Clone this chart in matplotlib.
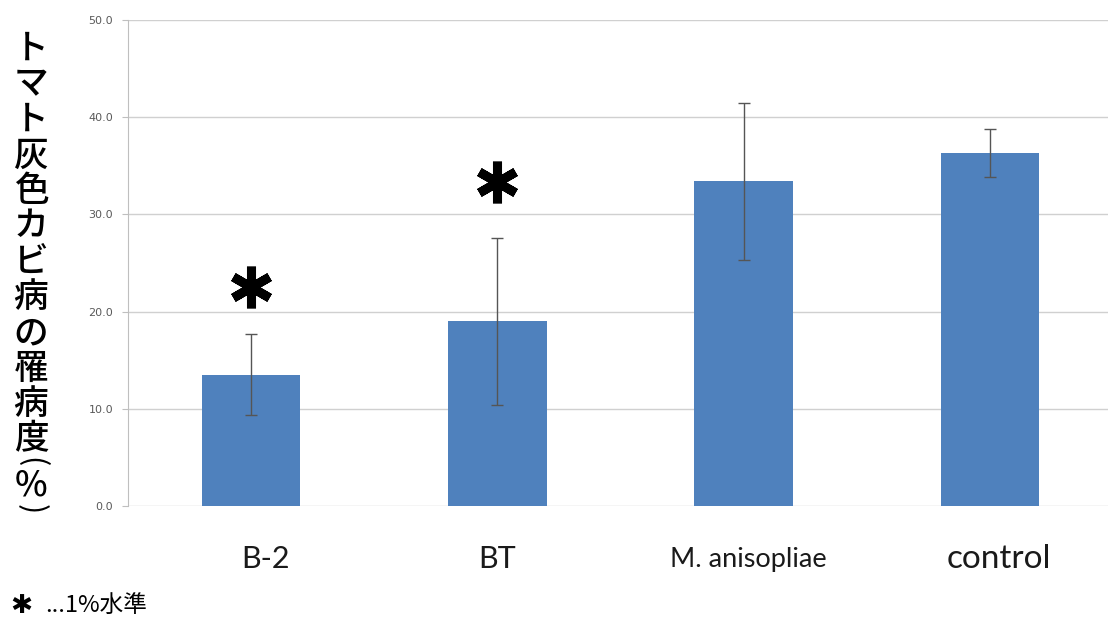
import matplotlib.pyplot as plt
from matplotlib.markers import MarkerStyle

plt.rcParams['font.family'] = ['Noto Sans CJK JP', 'DejaVu Sans']

# データ
categories = ['B-2', 'BT', 'M. anisopliae', 'control']
values = [13.5, 19.0, 33.4, 36.3]
errors = [4.2, 8.6, 8.1, 2.5]
label_sizes = [22, 22, 19.5, 24]
label_shift = [0.06, 0, 0.02, 0.035]
star_idx = [0, 1]
star_y = [22.5, 33.3]
yticks = [0, 10, 20, 30, 40, 50]

fig = plt.figure(figsize=(11.08, 6.23), dpi=100)
ax = fig.add_axes([0.1155, 0.188, 0.8845, 0.78])

ax.bar(range(len(categories)), values, width=0.4, color='#4f81bd', zorder=2)
ax.errorbar(range(len(categories)), values, yerr=errors, fmt='none',
            ecolor='#555555', elinewidth=1, capsize=4, capthick=1, zorder=3)

star = MarkerStyle((6, 2, 0), capstyle='round')
ax.plot(star_idx, star_y, linestyle='none', marker=star, markersize=30,
        markeredgewidth=6.5, color='black', zorder=4)

ax.set_xlim(-0.5, 3.48)
ax.set_ylim(0, 50)
ax.set_yticks(yticks)
ax.set_yticklabels([f'{t:.1f}' for t in yticks], fontsize=8, color='#595959',
                   family='DejaVu Sans')
ax.yaxis.grid(True, color='#d0d0d0', linewidth=1)
ax.set_axisbelow(True)
ax.tick_params(axis='y', length=4.3, color='#bfbfbf', pad=6.5)
ax.tick_params(axis='x', length=0)
ax.set_xticks([])
for s in ['top', 'right', 'bottom']:
    ax.spines[s].set_visible(False)
ax.spines['left'].set_color('#bfbfbf')

for i, (c, fs, dx) in enumerate(zip(categories, label_sizes, label_shift)):
    ax.text(i + dx, -5.5, c, ha='center', va='center', fontsize=fs,
            family='Lato', color='#1a1a1a', clip_on=False)

# 縦書きのラベル
xl = 31 / 1108
ylabel_chars = list('トマト灰色カビ病の罹病度')
pitch = 35.5
for k, ch in enumerate(ylabel_chars):
    fig.text(xl, 1 - (49 + k * pitch) / 623, ch, ha='center', va='center',
             fontsize=25, fontweight='medium')
fig.text(xl, 1 - 462 / 623, '(', ha='center', va='center', rotation=-90,
         fontsize=22)
fig.text(xl, 1 - 485 / 623, '%', ha='center', va='center',
         fontsize=25, fontweight='medium')
fig.text(xl, 1 - 509 / 623, ')', ha='center', va='center', rotation=-90,
         fontsize=22)

fig.text(21 / 1108, 1 - 606 / 623, '✱', fontsize=19, family='DejaVu Sans',
         ha='center', va='center')
fig.text(45 / 1108, 1 - 605 / 623, '...1%水準', fontsize=17, va='center')

fig.savefig('out.png', dpi=100)
